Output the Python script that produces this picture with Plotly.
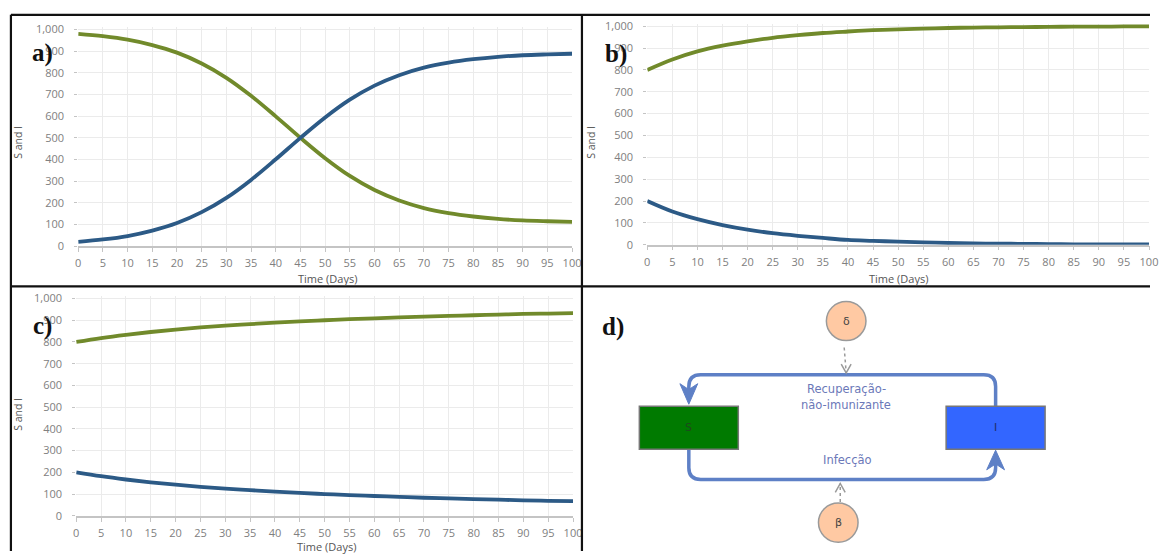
import plotly.graph_objects as go

W, H = 1159, 558


def fx(p):
    return p / W


def fy(p):
    return 1 - p / H


# ---------------- data ----------------
days = [0, 5, 10, 15, 20, 25, 30, 35, 40, 45, 50, 55, 60, 65, 70, 75, 80, 85, 90, 95, 100]

a_S = [980, 969, 953, 928, 893, 843, 777, 694, 599, 500, 406, 324, 259, 211, 176, 153, 137, 126, 119, 115, 112]
a_I = [20, 31, 47, 72, 107, 157, 223, 306, 401, 500, 594, 676, 741, 789, 824, 847, 863, 874, 881, 885, 888]

b_S = [800, 848, 885, 911, 931, 947, 959, 969, 976, 982, 986, 989, 992, 994, 995, 996, 997, 998, 998, 999, 999]
b_I = [200, 152, 117, 90, 69, 53, 41, 31, 22, 18, 14, 11, 8, 6, 5, 4, 3, 2, 2, 1, 1]

c_S = [800, 818, 833, 846, 857, 867, 875, 882, 889, 895, 900, 905, 909, 913, 917, 920, 923, 926, 929, 931, 933]
c_I = [200, 182, 167, 154, 143, 133, 125, 118, 111, 105, 100, 95, 91, 87, 83, 80, 77, 74, 71, 69, 67]

x_ticks = list(range(0, 101, 5))
y_ticks = list(range(0, 1001, 100))

panel_labels = ["a)", "b)", "c)", "d)"]
x_title = "Time (Days)"
y_title = "S and I"

# ---------------- styles / layout ----------------
GREEN = "#718A2B"
BLUE = "#2C5A86"
GRID = "#ebebeb"
TICK = "#808080"
AXLINE = "#c4c4c4"
FONT = "Open Sans"

# pixel positions: x of day 0, x of day 100, y of value 0, y of value 1000
panels = [
    dict(px0=76, px1=575, py0=246.5, py1=25, S=a_S, I=a_I),
    dict(px0=651, px1=1158, py0=245, py1=21.7, S=b_S, I=b_I),
    dict(px0=74, px1=576, py0=522, py1=300, S=c_S, I=c_I),
]

fig = go.Figure()
layout = dict(
    width=W, height=H,
    margin=dict(l=0, r=0, t=0, b=0),
    paper_bgcolor="white", plot_bgcolor="white",
    showlegend=False,
)

YMAX = 1012
for i, p in enumerate(panels):
    sx = "" if i == 0 else str(i + 1)
    xa, ya = "x" + sx, "y" + sx
    ppu = (p["py0"] - p["py1"]) / 1000.0
    top = p["py0"] - YMAX * ppu
    fig.add_trace(go.Scatter(x=days, y=p["S"], mode="lines", xaxis=xa, yaxis=ya,
                             line=dict(color=GREEN, width=3.8, shape="spline"),
                             hoverinfo="skip"))
    fig.add_trace(go.Scatter(x=days, y=p["I"], mode="lines", xaxis=xa, yaxis=ya,
                             line=dict(color=BLUE, width=3.8, shape="spline"),
                             hoverinfo="skip"))
    layout["xaxis" + sx] = dict(
        domain=[fx(p["px0"]), fx(p["px1"])], range=[0, 100], anchor=ya,
        tickvals=x_ticks, showgrid=True, gridcolor=GRID, gridwidth=1,
        showline=True, linecolor=AXLINE, linewidth=1.5, zeroline=False,
        ticks="outside", ticklen=4, tickcolor=AXLINE, ticklabelstandoff=2,
        tickfont=dict(family=FONT, size=11, color=TICK),
    )
    layout["yaxis" + sx] = dict(
        domain=[fy(p["py0"]), fy(top)], range=[0, YMAX], anchor=xa,
        tickvals=y_ticks, tickformat=",", showgrid=True, gridcolor=GRID, gridwidth=1,
        showline=False, zeroline=False,
        ticks="outside", ticklen=3, tickcolor=AXLINE, ticklabelstandoff=8,
        tickfont=dict(family=FONT, size=11, color=TICK),
    )

annotations = []


def note(text, px, py, size, color, family=FONT, angle=0):
    annotations.append(dict(x=fx(px), y=fy(py), xref="paper", yref="paper", text=text,
                            showarrow=False, textangle=angle,
                            font=dict(family=family, size=size, color=color),
                            xanchor="center", yanchor="middle"))


# axis titles
for (tx, ty) in [(328, 280), (905, 280), (327, 553)]:
    note(x_title, tx, ty, 11, "#555")
for (tx, ty) in [(15, 140), (594, 140), (15, 418)]:
    note(y_title, tx, ty, 10.5, "#555", angle=-90)
# panel labels
for lab, (tx, ty) in zip(panel_labels, [(40, 49), (619, 50), (40, 328), (616, 329)]):
    note("<b>" + lab + "</b>", tx, ty, 25, "#111", family="Liberation Serif")

shapes = []
# frame lines
frame = [((8, 10), (1159, 10)), ((8, 287.5), (1159, 287.5)), ((8, 10), (8, 558)),
         ((585, 10), (585, 558))]
for (x0, y0), (x1, y1) in frame:
    shapes.append(dict(type="line", xref="paper", yref="paper", x0=fx(x0), y0=fy(y0),
                       x1=fx(x1), y1=fy(y1), line=dict(color="#111", width=2.2), layer="above"))

# ---------------- diagram (panel d) ----------------
LOOP = "#5E80C6"


def path(cmds):
    out = []
    for c in cmds:
        if isinstance(c, str):
            out.append(c)
        else:
            out.append(f"{fx(c[0]):.5f},{fy(c[1]):.5f}")
    return " ".join(out)


# top loop: I -> S (recovery)
shapes.append(dict(type="path", xref="paper", yref="paper",
                   path=path(["M", (1003, 410), "L", (1003, 390), "Q", (1003, 378), (991, 378),
                              "L", (705, 378), "Q", (693, 378), (693, 390), "L", (693, 396)]),
                   line=dict(color=LOOP, width=3.5)))
# bottom loop: S -> I (infection)
shapes.append(dict(type="path", xref="paper", yref="paper",
                   path=path(["M", (693, 454), "L", (693, 473), "Q", (693, 485), (705, 485),
                              "L", (991, 485), "Q", (1003, 485), (1003, 473), "L", (1003, 468)]),
                   line=dict(color=LOOP, width=3.5)))
# arrowheads
shapes.append(dict(type="path", xref="paper", yref="paper",
                   path=path(["M", (684, 387), "L", (693, 408), "L", (702, 387), "L", (693, 393), "Z"]),
                   fillcolor=LOOP, line=dict(color=LOOP, width=1)))
shapes.append(dict(type="path", xref="paper", yref="paper",
                   path=path(["M", (994, 475), "L", (1003, 455), "L", (1012, 475), "L", (1003, 469), "Z"]),
                   fillcolor=LOOP, line=dict(color=LOOP, width=1)))

# boxes
boxes = [("S", 643, 410, 743, 454, "#007A00", "#1d4a1d"), ("I", 953, 410, 1053, 454, "#3366FF", "#1f2f6a")]
for name, x0, y0, x1, y1, fill, tc in boxes:
    shapes.append(dict(type="rect", xref="paper", yref="paper", x0=fx(x0), y0=fy(y1),
                       x1=fx(x1), y1=fy(y0), fillcolor=fill, line=dict(color="#777", width=1.5)))
    note(name, (x0 + x1) / 2, (y0 + y1) / 2, 11, tc, family="DejaVu Sans")

# parameter circles
circles = [("δ", 852, 323, 850, 350, 852, 376), ("β", 844, 529, 846, 508, 846, 489)]
for sym, cx, cy, lx0, ly0, lx1, ly1 in circles:
    r = 20
    shapes.append(dict(type="circle", xref="paper", yref="paper", x0=fx(cx - r), x1=fx(cx + r),
                       y0=fy(cy + r), y1=fy(cy - r), fillcolor="#FFC9A3",
                       line=dict(color="#9a9a9a", width=1.5)))
    note(sym, cx, cy, 11, "#444", family="DejaVu Sans")
    # dashed influence link
    shapes.append(dict(type="line", xref="paper", yref="paper", x0=fx(lx0), y0=fy(ly0),
                       x1=fx(lx1), y1=fy(ly1), line=dict(color="#9a9a9a", width=1.5, dash="3px,3px")))
    d = 1 if ly1 > ly0 else -1
    shapes.append(dict(type="path", xref="paper", yref="paper",
                       path=path(["M", (lx1 - 5, ly1 - 9 * d), "L", (lx1, ly1), "L", (lx1 + 5, ly1 - 9 * d)]),
                       line=dict(color="#9a9a9a", width=1.5)))

flow_texts = [("Recuperação-", 852, 392), ("não-imunizante", 852, 409), ("Infecção", 853, 465)]
for t, tx, ty in flow_texts:
    note(t, tx, ty, 11.5, "#6B78B8", family="DejaVu Sans")

layout["annotations"] = annotations
layout["shapes"] = shapes
fig.update_layout(**layout)
# remove the page's default body margin so the figure sits at the window's top-left corner
fig.write_html("out.html", config={"displayModeBar": False},
               post_script="document.body.style.margin='0';document.body.style.overflow='hidden';")
